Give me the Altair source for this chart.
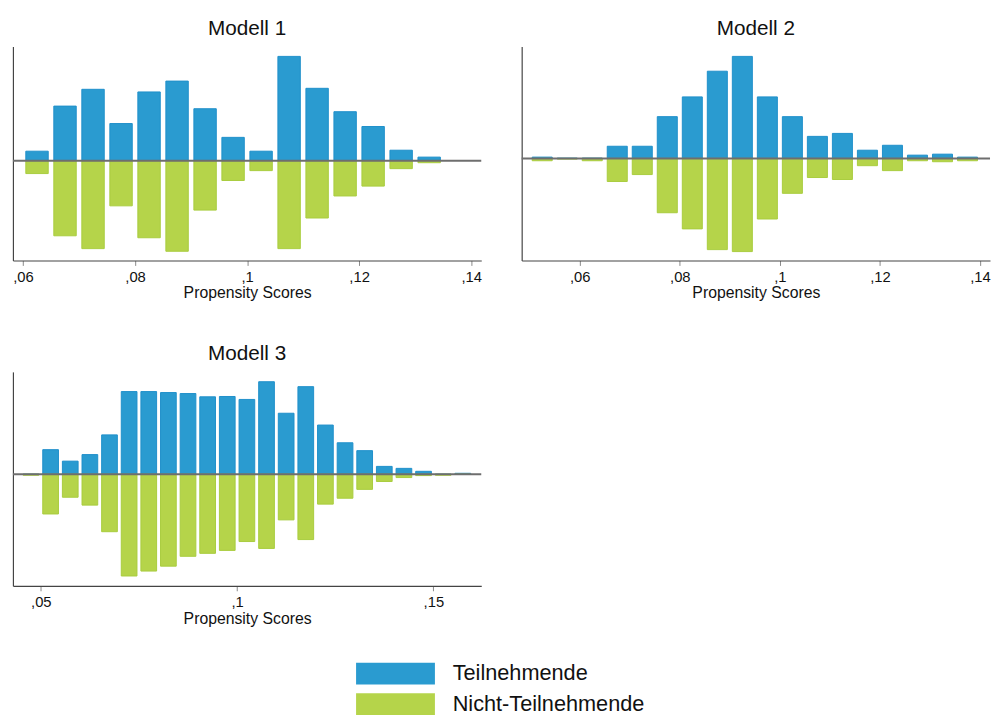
import altair as alt
import pandas as pd

groups = ["Teilnehmende", "Nicht-Teilnehmende"]
fill_colors = ["#2a9bd0", "#b5d44a"]
edge_colors = ["#1f8fca", "#a9cc3e"]
FONT = "Liberation Sans"

# Modell 1
m1_x = [0.0625, 0.0675, 0.0725, 0.0775, 0.0825, 0.0875, 0.0925, 0.0975,
        0.1025, 0.1075, 0.1125, 0.1175, 0.1225, 0.1275, 0.1325]
m1_teil = [29, 166, 217, 113, 209, 242, 158, 71, 29, 317, 220, 149, 104, 32, 11]
m1_nicht = [39, 228, 267, 137, 234, 275, 150, 60, 30, 267, 174, 107, 77, 24, 6]

# Modell 2
m2_x = [0.0525, 0.0575, 0.0625, 0.0675, 0.0725, 0.0775, 0.0825, 0.0875, 0.0925,
        0.0975, 0.1025, 0.1075, 0.1125, 0.1175, 0.1225, 0.1275, 0.1325, 0.1375]
m2_teil = [4, 1, 1, 37, 37, 127, 187, 265, 310, 187, 127, 67, 76, 25, 40, 10, 13, 4]
m2_nicht = [7, 2, 7, 70, 49, 165, 214, 277, 283, 184, 106, 58, 64, 22, 37, 7, 10, 7]

# Modell 3
m3_x = [0.0475, 0.0525, 0.0575, 0.0625, 0.0675, 0.0725, 0.0775, 0.0825, 0.0875,
        0.0925, 0.0975, 0.1025, 0.1075, 0.1125, 0.1175, 0.1225, 0.1275, 0.1325,
        0.1375, 0.1425, 0.1475, 0.1525, 0.1575]
m3_teil = [0, 75, 40, 60, 120, 252, 252, 249, 246, 236, 237, 228, 282, 186, 267,
           150, 96, 72, 24, 18, 9, 0, 3]
m3_nicht = [3, 121, 70, 94, 175, 310, 295, 280, 250, 241, 232, 205, 226, 139, 199,
            91, 73, 46, 22, 10, 4, 3, 0]

ticks_12 = [0.06, 0.08, 0.1, 0.12, 0.14]
ticks_3 = [0.05, 0.1, 0.15]

HALF_BAR = 0.002
W, H = 475, 217


def panel(title, xs, teil, nicht, xdom, ydom, ticks):
    rows = []
    for x, t, n in zip(xs, teil, nicht):
        rows.append({"lo": x - HALF_BAR, "hi": x + HALF_BAR, "v": t, "base": 0, "Gruppe": groups[0]})
        rows.append({"lo": x - HALF_BAR, "hi": x + HALF_BAR, "v": -n, "base": 0, "Gruppe": groups[1]})
    df = pd.DataFrame(rows)
    bars = alt.Chart(df).mark_bar(strokeWidth=1).encode(
        x=alt.X("lo:Q",
                scale=alt.Scale(domain=xdom, nice=False, zero=False),
                axis=alt.Axis(values=ticks,
                              labelExpr="replace(format(datum.value, '.2~f'), '0.', ',')",
                              title="Propensity Scores", grid=False,
                              labelFont=FONT, labelFontSize=15, labelColor="#111",
                              titleFont=FONT, titleFontSize=16, titleFontWeight="normal",
                              titleColor="#111", titlePadding=1,
                              tickSize=5, tickColor="#888", labelPadding=4,
                              domainColor="#444", domainWidth=1.2)),
        x2="hi",
        y=alt.Y("v:Q", scale=alt.Scale(domain=ydom, nice=False, zero=False),
                axis=alt.Axis(labels=False, ticks=False, title=None, grid=False,
                              domainColor="#444", domainWidth=1.2)),
        y2="base",
        color=alt.Color("Gruppe:N",
                        scale=alt.Scale(domain=groups, range=fill_colors),
                        legend=alt.Legend(
                            title=None, orient="none", direction="vertical",
                            legendX=406, legendY=625,
                            symbolType="M-6.27,-1H1V1H-6.27Z", symbolSize=484,
                            symbolStrokeWidth=0, symbolOpacity=1,
                            labelFont=FONT, labelFontSize=22, labelColor="#111",
                            labelOffset=18, rowPadding=9, labelLimit=400)),
        stroke=alt.Stroke("Gruppe:N",
                          scale=alt.Scale(domain=groups, range=edge_colors),
                          legend=None),
    )
    zero = alt.Chart(pd.DataFrame({"z": [0]})).mark_rule(
        color="#6e6e6e", strokeWidth=2).encode(y="z:Q")
    return alt.layer(bars, zero).properties(
        width=W, height=H,
        title=alt.TitleParams(title, font=FONT, fontSize=21, fontWeight="normal",
                              color="#111", anchor="middle", offset=8),
    )


p1 = panel("Modell 1", m1_x, m1_teil, m1_nicht, [0.0582, 0.1418], [-303, 347], ticks_12)
p2 = panel("Modell 2", m2_x, m2_teil, m2_nicht, [0.0484, 0.142], [-310, 340], ticks_12)
p3 = panel("Modell 3", m3_x, m3_teil, m3_nicht, [0.0429, 0.1622], [-340, 312], ticks_3)

chart = alt.vconcat(
    alt.hconcat(p1, p2, spacing=39),
    p3,
    spacing=43,
).properties(
    padding={"left": 4, "top": 5, "right": 0, "bottom": 0},
    background="white",
).configure_view(stroke=None)

chart.save("out.html", embed_options={"renderer": "svg", "actions": False})
